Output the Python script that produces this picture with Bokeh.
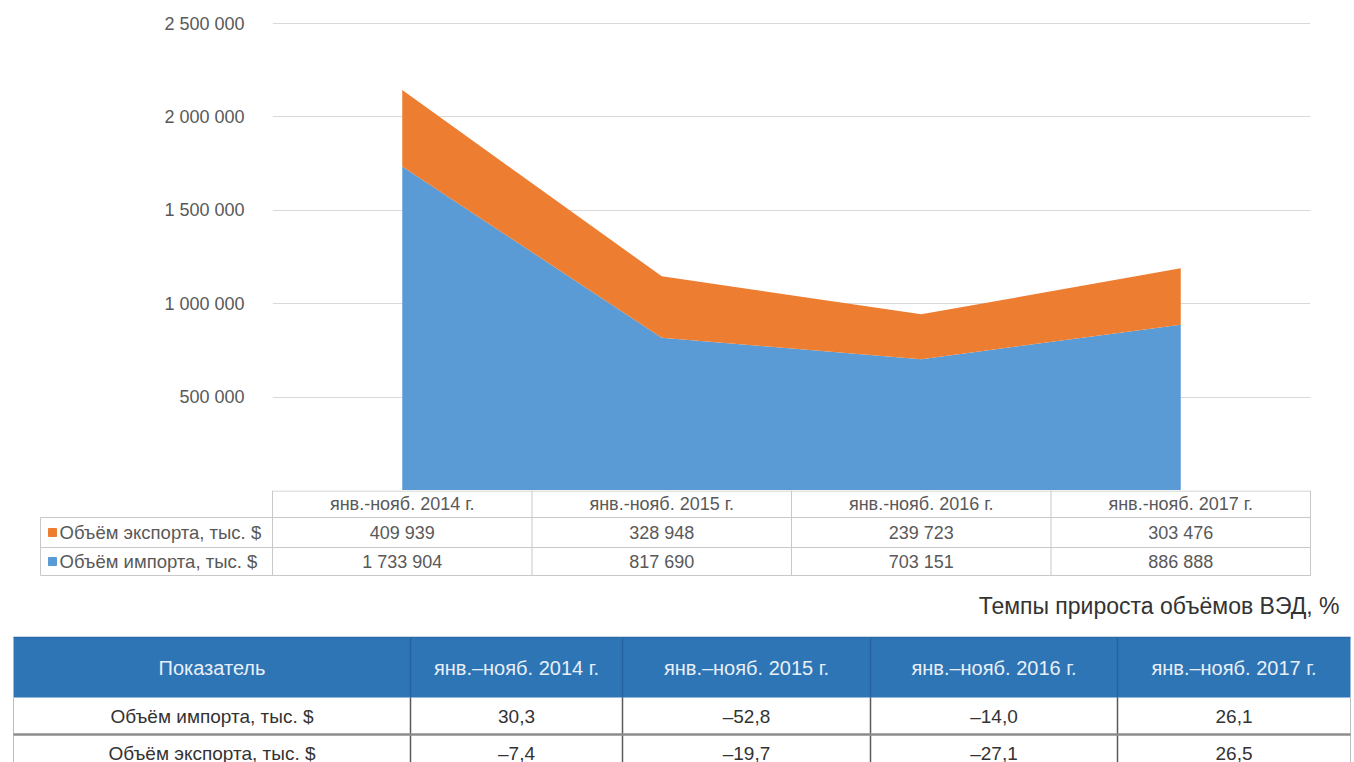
from bokeh.plotting import figure
from bokeh.models import FactorRange, Range1d, FixedTicker, ColumnDataSource
from bokeh.layouts import column
from bokeh.embed import file_html
from bokeh.resources import INLINE
from bokeh.core.properties import value

# ---------------- data ----------------
periods = ["янв.-нояб. 2014 г.", "янв.-нояб. 2015 г.", "янв.-нояб. 2016 г.", "янв.-нояб. 2017 г."]
export_vol = [409939, 328948, 239723, 303476]
import_vol = [1733904, 817690, 703151, 886888]
export_label = "Объём экспорта, тыс. $"
import_label = "Объём импорта, тыс. $"
y_ticks = [500000, 1000000, 1500000, 2000000, 2500000]

growth_title = "Темпы прироста объёмов ВЭД, %"
growth_header = ["Показатель", "янв.–нояб. 2014 г.", "янв.–нояб. 2015 г.",
                 "янв.–нояб. 2016 г.", "янв.–нояб. 2017 г."]
growth_rows = ["Объём импорта, тыс. $", "Объём экспорта, тыс. $"]
import_growth = [30.3, -52.8, -14.0, 26.1]
export_growth = [-7.4, -19.7, -27.1, 26.5]

BLUE = "#5B9BD5"
ORANGE = "#ED7D31"
FONT = "Liberation Sans"

def fmt_int(v):
    return f"{v:,}".replace(",", " ")

def fmt_pct(v):
    s = f"{abs(v):.1f}".replace(".", ",")
    return ("–" + s) if v < 0 else s

def no_align(fig):
    try:
        fig.frame_align = False
    except Exception:
        pass

# ---------------- chart ----------------
W = 1354
H1 = 490
FR_L, FR_R, FR_T = 272, 44, 20
TOP_TICK_PX = 23  # page y of the top gridline
y_end = y_ticks[-1] * (H1 - FR_T) / (H1 - TOP_TICK_PX)

p = figure(width=W, height=H1, x_range=FactorRange(*periods, range_padding=0),
           y_range=Range1d(0, y_end), x_axis_location=None,
           output_backend="svg", toolbar_location=None,
           min_border_left=FR_L, min_border_right=FR_R, min_border_top=FR_T, min_border_bottom=0)
no_align(p)
p.outline_line_color = None
p.xgrid.grid_line_color = None
p.ygrid.ticker = FixedTicker(ticks=y_ticks)
p.ygrid.grid_line_color = "#d9d9d9"
p.ygrid.grid_line_width = 1

src = ColumnDataSource(dict(period=periods, imp=import_vol, exp=export_vol))
p.varea_stack(stackers=["imp", "exp"], x="period", color=[BLUE, ORANGE], source=src)

ax = p.yaxis[0]
ax.ticker = FixedTicker(ticks=y_ticks)
ax.major_label_overrides = {t: fmt_int(t) for t in y_ticks}
ax.axis_line_color = None
ax.major_tick_line_color = None
ax.minor_tick_line_color = None
ax.major_tick_in = 0
ax.major_tick_out = 0
ax.major_label_standoff = 28
ax.major_label_text_font = FONT
ax.major_label_text_font_size = "18px"
ax.major_label_text_color = "#595959"

# ---------------- tables ----------------
H2 = 762 - H1
Y0 = H1
q = figure(width=W, height=H2, x_range=Range1d(0, W), y_range=Range1d(Y0 + H2, Y0),
           x_axis_location=None, y_axis_location=None,
           output_backend="svg", toolbar_location=None,
           min_border=0, min_border_left=0, min_border_right=0,
           min_border_top=0, min_border_bottom=0)
no_align(q)
q.outline_line_color = None
q.xgrid.grid_line_color = None
q.ygrid.grid_line_color = None

# data table under chart (aligned with chart frame)
left = FR_L
right = W - FR_R
n = len(periods)
cw = (right - left) / n
xs = [left + i * cw for i in range(n + 1)]
centers = [left + (i + 0.5) * cw for i in range(n)]
leg_left = 40
t0, t1, t2, t3 = 490, 517, 547, 575
grid_c = "#c8c8c8"
q.segment(x0=[left, leg_left, leg_left, leg_left], x1=[right] * 4,
          y0=[t0 + 0.5, t1, t2, t3], y1=[t0 + 0.5, t1, t2, t3], line_color=grid_c, line_width=1)
q.segment(x0=xs, x1=xs, y0=[t0] * len(xs), y1=[t3] * len(xs), line_color=grid_c, line_width=1)
q.segment(x0=[leg_left], x1=[leg_left], y0=[t1], y1=[t3], line_color=grid_c, line_width=1)

tstyle = dict(text_font=value(FONT), text_font_size="18px", text_color="#595959",
              text_baseline="middle")
q.text(x=centers, y=[(t0 + t1) / 2] * n, text=periods, text_align="center", **tstyle)
q.text(x=centers, y=[(t1 + t2) / 2] * n, text=[fmt_int(v) for v in export_vol],
       text_align="center", **tstyle)
q.text(x=centers, y=[(t2 + t3) / 2] * n, text=[fmt_int(v) for v in import_vol],
       text_align="center", **tstyle)
q.scatter(x=[leg_left + 12, leg_left + 12], y=[(t1 + t2) / 2, (t2 + t3) / 2], marker="square",
          size=8, color=[ORANGE, BLUE])
lstyle = dict(tstyle)
lstyle["text_font_size"] = "18.5px"
q.text(x=[leg_left + 19] * 2, y=[(t1 + t2) / 2, (t2 + t3) / 2], text=[export_label, import_label],
       text_align="left", **lstyle)

# growth table
q.text(x=[1339], y=[605], text=[growth_title], text_align="right", text_baseline="middle",
       text_font=value(FONT), text_font_size="23px", text_color="#333333")

gx = [13, 410, 622, 870, 1117, 1350]
h0, h1, h2, h3 = 637, 697, 734, 771
q.quad(left=[gx[0]], right=[gx[-1]], top=[h0], bottom=[h1], fill_color="#2E75B6", line_color=None)
q.segment(x0=gx[1:-1], x1=gx[1:-1], y0=[h0] * 4, y1=[h1] * 4, line_color="#2563a0", line_width=1.5)
q.segment(x0=gx[1:-1], x1=gx[1:-1], y0=[h1] * 4, y1=[h3] * 4, line_color="#595959", line_width=1.5)
q.segment(x0=[gx[0], gx[-1]], x1=[gx[0], gx[-1]], y0=[h1, h1], y1=[h3, h3], line_color="#bfbfbf", line_width=1)
q.segment(x0=[gx[0]], x1=[gx[-1]], y0=[h2], y1=[h2], line_color="#8c8c8c", line_width=2.5)
q.segment(x0=[gx[0]], x1=[gx[-1]], y0=[h0], y1=[h0], line_color="#2a6aa6", line_width=1.5)

gcent = [(gx[i] + gx[i + 1]) / 2 for i in range(5)]
q.text(x=gcent, y=[(h0 + h1) / 2] * 5, text=growth_header, text_align="center",
       text_baseline="middle", text_font=value(FONT), text_font_size="20px", text_color="#e9eff7")
bstyle = dict(text_align="center", text_baseline="middle", text_font=value(FONT),
              text_font_size="19px", text_color="#333333")
q.text(x=gcent, y=[(h1 + h2) / 2] * 5, text=[growth_rows[0]] + [fmt_pct(v) for v in import_growth], **bstyle)
q.text(x=gcent, y=[(h2 + h3) / 2] * 5, text=[growth_rows[1]] + [fmt_pct(v) for v in export_growth], **bstyle)

layout = column(p, q, spacing=0)
open("out.html", "w").write(file_html(layout, INLINE))
